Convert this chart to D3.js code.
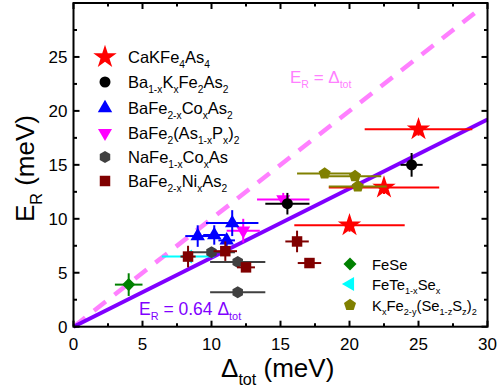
<!DOCTYPE html>
<html>
<head>
<meta charset="utf-8">
<script src="https://cdn.jsdelivr.net/npm/d3@7"></script>
<style>
  body { margin: 0; background: #fff; }
  svg { font-family: "Liberation Sans", Arial, sans-serif; }
</style>
</head>
<body>
<svg id="chart" width="500" height="390"></svg>
<script>
// each point: [delta_tot, E_R, x error, y error]
const cakfeData = [[25.0, 18.3, 3.9, 0.6], [22.5, 12.9, 4.0, 0.6], [20.0, 9.4, 4.0, 0.6]];
const baKData = [[24.5, 15.0, 0.8, 1.1], [15.5, 11.4, 1.6, 1.0]];
const coData = [[9.0, 8.4, 0.9, 1.0], [10.2, 8.5, 0.8, 0.9], [11.5, 9.6, 1.9, 1.2], [11.1, 8.0, 0.6, 0.6]];
const pData = [[15.2, 11.8, 1.9, 0.6], [12.3, 8.9, 1.2, 1.1]];
const naCoData = [[10.0, 6.9, 1.7, 0.3], [11.9, 6.0, 2.0, 0.3], [11.9, 3.2, 2.0, 0.3]];
const niData = [[8.3, 6.5, 0.55, 1.0], [11.0, 7.0, 0.85, 0.9], [12.5, 5.5, 0.65, 0.4], [16.2, 7.9, 0.85, 1.0], [17.1, 5.9, 0.85, 0.3]];
const feSeData = [[4.0, 3.9, 1.0, 1.05]];
const feTeSeData = [[8.3, 6.5, 1.9, 0.9]];
const kfeSeData = [[18.2, 14.2, 2.0, 0.3], [20.4, 13.95, 1.9, 0.3], [20.6, 13.0, 2.1, 0.3]];

const xTicks = [0, 5, 10, 15, 20, 25, 30];
const yTicks = [0, 5, 10, 15, 20, 25];
const slopeFit = 0.64;

const svg = d3.select('#chart');
const mLeft = 73.5, mRight = 487.5, mTop = 3, mBottom = 326.7;

const x = d3.scaleLinear().domain([0, 30]).range([mLeft, mRight]);
const y = d3.scaleLinear().domain([0, 30]).range([mBottom, mTop]);

// polygon symbols
function polygon(n, start) {
    return {
        draw(ctx, size) {
            const r = Math.sqrt(size / (n * Math.sin(2 * Math.PI / n) / 2));
            for (let i = 0; i < n; i++) {
                const a = start + i * 2 * Math.PI / n;
                if (i) ctx.lineTo(r * Math.cos(a), r * Math.sin(a));
                else ctx.moveTo(r * Math.cos(a), r * Math.sin(a));
            }
            ctx.closePath();
        }
    };
}
const hexagon = polygon(6, -Math.PI / 2);
const pentagon = polygon(5, -Math.PI / 2);
const triDown = polygon(3, Math.PI / 2);
const triLeft = polygon(3, Math.PI);
const triUp = polygon(3, -Math.PI / 2);
const diamond = polygon(4, -Math.PI / 2);

const series = [
    { data: feTeSeData, color: '#00ffff', sym: triLeft, size: 85 },
    { data: cakfeData, color: '#ff0000', sym: d3.symbolStar, size: 170 },
    { data: pData, color: '#ff00ff', sym: triDown, size: 85 },
    { data: coData, color: '#0000ff', sym: triUp, size: 90 },
    { data: baKData, color: '#000000', sym: d3.symbolCircle, size: 95 },
    { data: naCoData, color: '#404040', sym: hexagon, size: 95 },
    { data: niData, color: '#800000', sym: d3.symbolSquare, size: 110 },
    { data: feSeData, color: '#008000', sym: diamond, size: 85 },
    { data: kfeSeData, color: '#808000', sym: pentagon, size: 95 }
];

// reference lines
svg.append('line')
    .attr('x1', x(0)).attr('y1', y(0))
    .attr('x2', x(29.3)).attr('y2', y(29.3))
    .attr('stroke', '#ff80ff').attr('stroke-width', 4.5)
    .attr('stroke-dasharray', '15,11');

svg.append('line')
    .attr('x1', x(0)).attr('y1', y(0))
    .attr('x2', x(30)).attr('y2', y(30 * slopeFit))
    .attr('stroke', '#8000ff').attr('stroke-width', 4);

// points with error bars
series.forEach(s => {
    const g = svg.append('g');
    s.data.forEach(d => {
        g.append('line')
            .attr('x1', x(d[0] - d[2])).attr('x2', x(d[0] + d[2]))
            .attr('y1', y(d[1])).attr('y2', y(d[1]))
            .attr('stroke', s.color).attr('stroke-width', 2);
        g.append('line')
            .attr('x1', x(d[0])).attr('x2', x(d[0]))
            .attr('y1', y(d[1] - d[3])).attr('y2', y(d[1] + d[3]))
            .attr('stroke', s.color).attr('stroke-width', 2);
    });
    g.selectAll('path')
        .data(s.data)
        .enter().append('path')
        .attr('d', d3.symbol().type(s.sym).size(s.size))
        .attr('transform', d => `translate(${x(d[0])},${y(d[1])})`)
        .attr('fill', s.color);
});

// frame
svg.append('rect')
    .attr('x', mLeft).attr('y', mTop)
    .attr('width', mRight - mLeft).attr('height', mBottom - mTop)
    .attr('fill', 'none').attr('stroke', '#000').attr('stroke-width', 2);

// ticks (inward on all sides)
const minor = d3.range(0, 30.01, 2.5);
const tickG = svg.append('g').attr('stroke', '#000').attr('stroke-width', 2);
minor.forEach(v => {
    const len = v % 5 === 0 ? 6 : 3.5;
    tickG.append('line').attr('x1', x(v)).attr('x2', x(v)).attr('y1', mBottom).attr('y2', mBottom - len);
    tickG.append('line').attr('x1', x(v)).attr('x2', x(v)).attr('y1', mTop).attr('y2', mTop + len);
    tickG.append('line').attr('y1', y(v)).attr('y2', y(v)).attr('x1', mLeft).attr('x2', mLeft + len);
    tickG.append('line').attr('y1', y(v)).attr('y2', y(v)).attr('x1', mRight).attr('x2', mRight - len);
});

svg.append('g').selectAll('text')
    .data(xTicks)
    .enter().append('text')
    .attr('x', d => x(d)).attr('y', mBottom + 23)
    .attr('text-anchor', 'middle')
    .style('font-size', '17px')
    .text(d => d);

svg.append('g').selectAll('text')
    .data(yTicks)
    .enter().append('text')
    .attr('x', mLeft - 6).attr('y', d => y(d) + 6)
    .attr('text-anchor', 'end')
    .style('font-size', '17px')
    .text(d => d);

// text with "_{...}" subscripts
function subText(parent, str, size) {
    const t = parent.append('text').style('font-size', size + 'px');
    const shift = size * 0.3;
    let isDown = false;
    str.match(/_\{[^}]*\}|[^_]+/g).forEach(tok => {
        const span = t.append('tspan');
        if (tok.startsWith('_{')) {
            span.text(tok.slice(2, -1))
                .style('font-size', (size * 0.62) + 'px')
                .attr('dy', isDown ? 0 : shift);
            isDown = true;
        } else {
            span.text(tok).attr('dy', isDown ? -shift : 0);
            isDown = false;
        }
    });
    return t;
}

subText(svg, 'Δ_{tot} (meV)', 26)
    .attr('x', 221).attr('y', 377);

subText(svg, 'E_{R} (meV)', 26)
    .attr('transform', 'translate(34,222) rotate(-90)');

subText(svg, 'E_{R} = Δ_{tot}', 17)
    .attr('x', 290).attr('y', 83).attr('fill', '#ff80ff');

subText(svg, 'E_{R} = 0.64 Δ_{tot}', 17.5)
    .attr('x', 139).attr('y', 315).attr('fill', '#8000ff');

// legends
const legendLeft = [
    { label: 'CaKFe_{4}As_{4}', s: series[1], y: 57 },
    { label: 'Ba_{1-x}K_{x}Fe_{2}As_{2}', s: series[4], y: 82 },
    { label: 'BaFe_{2-x}Co_{x}As_{2}', s: series[3], y: 108 },
    { label: 'BaFe_{2}(As_{1-x}P_{x})_{2}', s: series[2], y: 133 },
    { label: 'NaFe_{1-x}Co_{x}As', s: series[5], y: 157 },
    { label: 'BaFe_{2-x}Ni_{x}As_{2}', s: series[6], y: 181 }
];
const legendRight = [
    { label: 'FeSe', s: series[7], y: 264 },
    { label: 'FeTe_{1-x}Se_{x}', s: series[0], y: 284 },
    { label: 'K_{x}Fe_{2-y}(Se_{1-z}S_{z})_{2}', s: series[8], y: 305 }
];

function drawLegend(items, mx, tx, fontSize) {
    items.forEach(it => {
        svg.append('path')
            .attr('d', d3.symbol().type(it.s.sym).size(it.s.size)())
            .attr('transform', `translate(${mx},${it.y})`)
            .attr('fill', it.s.color);
        subText(svg, it.label, fontSize)
            .attr('x', tx).attr('y', it.y + 6);
    });
}
drawLegend(legendLeft, 105, 128, 16.5);
drawLegend(legendRight, 350, 372, 14.8);
</script>
</body>
</html>
